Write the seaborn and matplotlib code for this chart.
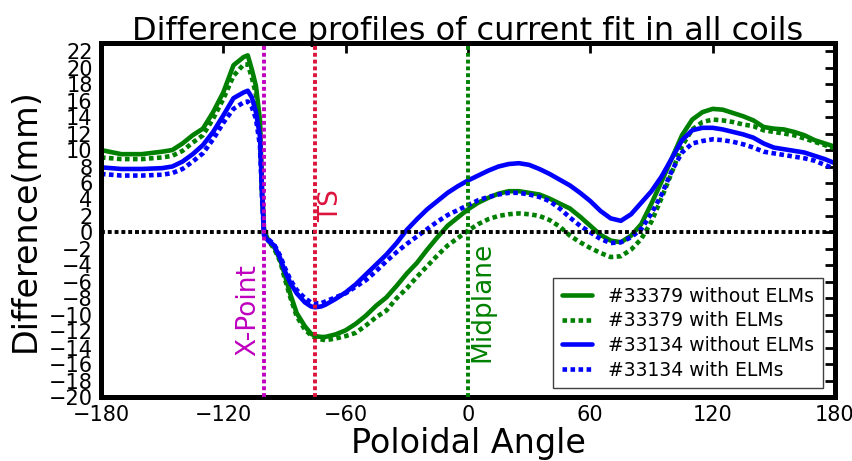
import matplotlib
matplotlib.use("Agg")
import matplotlib.pyplot as plt
import seaborn as sns
import pandas as pd

# Poloidal angle (deg) at which the coil-fit differences are evaluated
angle = [-180, -170, -160, -150, -145, -140, -135, -130, -125, -120, -115, -110,
         -108, -106, -104, -102, -101, -100, -98, -95, -92, -90, -87, -84, -80,
         -77, -75, -72, -70, -65, -60, -55, -50, -45, -40, -35, -30, -25, -20,
         -15, -10, -5, 0, 5, 10, 15, 20, 25, 30, 35, 40, 45, 50, 55, 60, 65, 70,
         75, 80, 85, 90, 95, 100, 105, 110, 115, 120, 125, 130, 135, 140, 145,
         150, 155, 160, 165, 170, 175, 180]

# Difference (mm) for each discharge / ELM condition
d33379_no_elm = [10.0, 9.5, 9.5, 9.8, 10.0, 10.8, 11.8, 12.6, 14.6, 17.0, 20.3, 21.3,
                 21.5, 19.8, 17.8, 13.6, 5.0, 0.3, -1.0, -1.8, -3.4, -5.0, -7.6, -9.8, -11.4,
                 -12.3, -12.6, -12.7, -12.7, -12.4, -11.9, -11.1, -10.1, -8.9, -7.9, -6.5, -5.0, -3.7, -2.1,
                 -0.6, 0.8, 1.8, 2.8, 3.6, 4.2, 4.7, 5.0, 5.0, 4.8, 4.6, 4.1, 3.5, 2.9, 1.9, 0.8, -0.3, -1.0,
                 -1.2, -0.4, 1.0, 3.5, 6.2, 9.0, 11.8, 13.7, 14.6, 15.0, 14.9, 14.5, 14.1, 13.6, 12.8,
                 12.6, 12.5, 12.2, 11.8, 11.2, 10.8, 10.4]
d33379_elm = [9.1, 8.9, 8.9, 9.1, 9.3, 9.9, 10.9, 11.8, 13.8, 16.2, 19.0, 20.4,
              20.4, 18.8, 16.8, 12.8, 5.0, 0.3, -1.0, -2.0, -3.6, -5.5, -8.0, -10.2, -11.8,
              -12.5, -12.8, -13.0, -13.1, -12.9, -12.6, -12.2, -11.3, -10.3, -9.5, -8.0, -6.8, -5.4, -4.1,
              -2.8, -1.6, -0.7, 0.2, 1.0, 1.6, 2.0, 2.2, 2.3, 2.2, 2.0, 1.5, 0.7, -0.4, -1.2, -1.9, -2.5, -3.0,
              -2.9, -2.1, -0.8, 1.3, 4.2, 7.3, 10.5, 12.5, 13.4, 13.7, 13.6, 13.4, 13.1, 12.9, 12.4,
              12.2, 12.0, 11.8, 11.4, 11.0, 10.6, 10.2]
d33134_no_elm = [7.9, 7.7, 7.7, 7.8, 8.0, 8.6, 9.5, 10.6, 12.2, 14.2, 16.3, 17.0,
                 17.2, 16.4, 14.6, 11.6, 5.0, -0.4, -1.0, -1.6, -3.2, -4.6, -6.2, -7.4, -8.5,
                 -9.0, -9.1, -9.0, -8.8, -8.1, -7.3, -6.3, -5.1, -3.9, -2.7, -1.3, 0.3, 1.6, 2.8,
                 3.8, 4.8, 5.6, 6.3, 6.9, 7.5, 8.0, 8.3, 8.4, 8.2, 7.7, 7.1, 6.4, 5.7, 4.8, 3.8, 2.6, 1.7,
                 1.4, 2.2, 3.6, 5.0, 6.8, 9.0, 11.2, 12.4, 12.7, 12.7, 12.5, 12.2, 11.9, 11.5, 10.8,
                 10.3, 10.1, 9.9, 9.7, 9.3, 8.9, 8.4]
d33134_elm = [7.1, 6.9, 6.9, 7.0, 7.2, 7.7, 8.6, 9.6, 11.3, 13.3, 15.0, 15.8,
              15.9, 15.2, 13.8, 10.5, 4.0, -0.3, -0.8, -1.5, -2.9, -4.2, -5.8, -7.0, -8.0,
              -8.5, -8.6, -8.6, -8.4, -7.9, -7.4, -6.6, -5.8, -4.7, -3.5, -2.4, -1.4, -0.5, 0.4,
              1.3, 2.1, 2.7, 3.3, 3.9, 4.3, 4.6, 4.8, 4.8, 4.6, 4.3, 3.8, 2.9, 1.8, 0.8, 0.0, -0.8, -1.3,
              -1.2, -0.6, 0.4, 2.3, 4.6, 7.5, 9.7, 10.8, 11.1, 11.3, 11.2, 11.0, 10.7, 10.3, 9.8,
              9.6, 9.4, 9.2, 9.0, 8.7, 8.2, 7.7]

series_labels = ["#33379 without ELMs", "#33379 with ELMs",
                 "#33134 without ELMs", "#33134 with ELMs"]

# Reference positions (deg) of the marked locations
marker_names = ["X-Point", "TS", "Midplane"]
marker_angles = [-100, -75, 0]

x_ticks = [-180, -120, -60, 0, 60, 120, 180]
y_ticks = list(range(-20, 23, 2))

sns.set_style("white")
plt.rcParams["font.family"] = ["DejaVu Sans"]
plt.rcParams["text.color"] = "black"
plt.rcParams["axes.labelcolor"] = "black"
plt.rcParams["xtick.color"] = "black"
plt.rcParams["ytick.color"] = "black"

DOT = (0, (1, 0.75))
GREEN = "#008000"
BLUE = "#0000ff"
MAGENTA = "#bf00bf"
CRIMSON = "#dc143c"

fig = plt.figure(figsize=(8.52, 4.61), dpi=100)
ax = fig.add_axes([0.1185, 0.1388, 0.8615, 0.7679])

frames = []
for lab, vals in zip(series_labels, [d33379_no_elm, d33379_elm, d33134_no_elm, d33134_elm]):
    frames.append(pd.DataFrame({"angle": angle, "diff": vals, "series": lab}))
df = pd.concat(frames, ignore_index=True)

styles = {
    series_labels[0]: (GREEN, "-"),
    series_labels[1]: (GREEN, DOT),
    series_labels[2]: (BLUE, "-"),
    series_labels[3]: (BLUE, DOT),
}
for lab in series_labels:
    col, ls = styles[lab]
    sns.lineplot(data=df[df["series"] == lab], x="angle", y="diff", ax=ax,
                 color=col, linestyle=ls, linewidth=3.3, label=lab,
                 sort=False, estimator=None)

# zero line and reference angles
ax.axhline(0, color="black", linestyle=DOT, linewidth=2.8, zorder=5)
marker_colors = [MAGENTA, CRIMSON, GREEN]
for a, c in zip(marker_angles, marker_colors):
    ax.axvline(a, color=c, linestyle=DOT, linewidth=2.8, zorder=5)

# labels next to the reference lines
ax.text(-108, -15.0, marker_names[0], rotation=90, color=MAGENTA, fontsize=19,
        ha="center", va="bottom")
ax.text(-67, 1.2, marker_names[1], rotation=90, color=CRIMSON, fontsize=19,
        ha="center", va="bottom")
ax.text(7.3, -15.8, marker_names[2], rotation=90, color=GREEN, fontsize=19,
        ha="center", va="bottom")

ax.set_xlim(-180, 180)
ax.set_ylim(-20, 23)
ax.set_xticks(x_ticks)
ax.set_yticks(y_ticks)
ax.set_xticklabels([f"{t}".replace("-", "\u2212") for t in x_ticks])
ax.set_yticklabels([f"{t}".replace("-", "\u2212") for t in y_ticks])

ax.tick_params(direction="in", length=7, width=2, top=True, right=True,
               labelsize=15, pad=6, colors="black")
for s in ax.spines.values():
    s.set_linewidth(3.6)
    s.set_color("black")

ax.set_title("Difference profiles of current fit in all coils", fontsize=23, pad=2,
             color="black")
ax.set_xlabel("Poloidal Angle", fontsize=24, labelpad=1, color="black")
ax.set_ylabel("Difference(mm)", fontsize=24, labelpad=5, color="black")

leg = ax.legend(loc="lower right", bbox_to_anchor=(0.9837, 0.0254), borderaxespad=0,
                fontsize=13.5, frameon=True, fancybox=False, framealpha=1,
                edgecolor="0.25", handlelength=1.6, labelspacing=0.3,
                handletextpad=0.9, borderpad=0.45, labelcolor="black")
leg.get_frame().set_linewidth(1.0)

fig.savefig("out.png", dpi=100)
